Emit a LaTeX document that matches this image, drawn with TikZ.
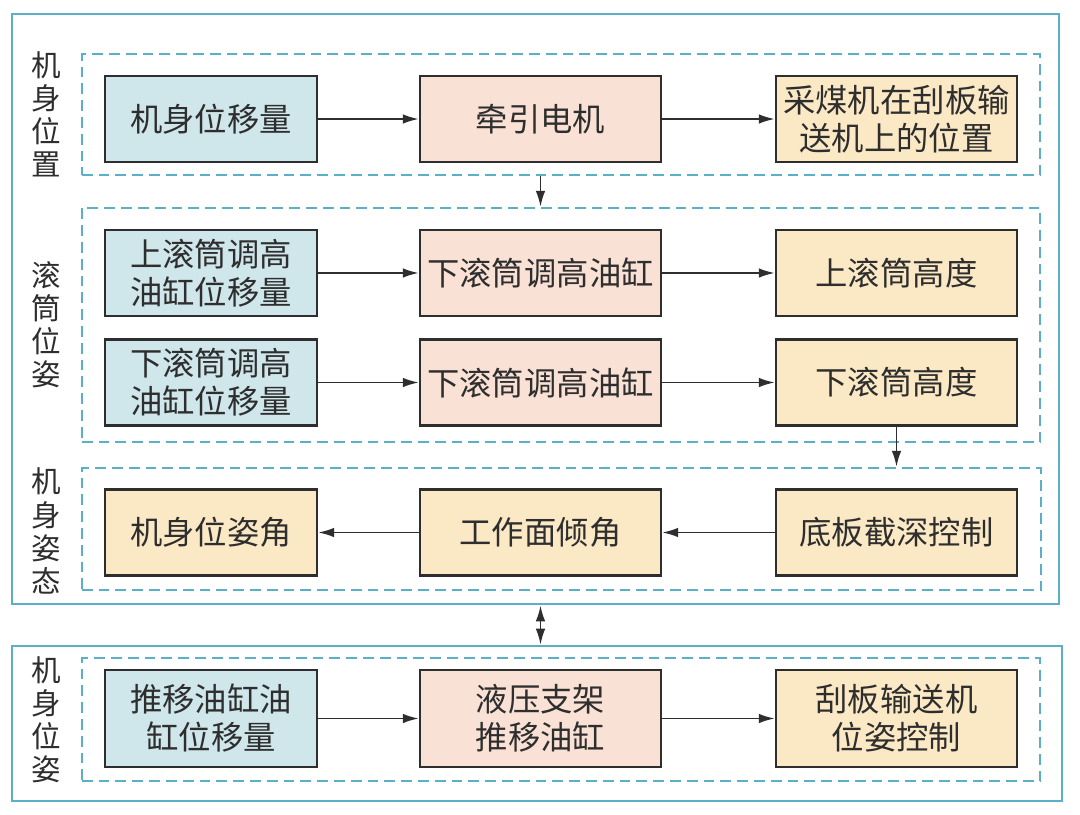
\documentclass[tikz,border=0pt]{standalone}
\usepackage{fontspec}
\newfontfamily\cjk{Noto Sans CJK SC}
\usetikzlibrary{arrows.meta}
\definecolor{frameC}{HTML}{5BAFC7}
\definecolor{blueF}{HTML}{CFE6EB}
\definecolor{pinkF}{HTML}{F9E2D5}
\definecolor{yelF}{HTML}{FBE9C6}
\definecolor{txt}{HTML}{2E2E2E}
\begin{document}
\begin{tikzpicture}[x=0.025cm,y=-0.025cm,
  box/.style={draw=txt, line width=1.6pt, inner sep=0pt, align=center,
    font=\cjk\fontsize{23}{27}\selectfont, text=txt},
  bb1/.style={box, fill=blueF, minimum width=5.3cm, minimum height=2.15cm},
  pb/.style={box, fill=pinkF, minimum width=6.025cm, minimum height=2.15cm},
  yb/.style={box, fill=yelF, minimum width=6.025cm, minimum height=2.15cm},
  yb1/.style={box, fill=yelF, minimum width=5.3cm, minimum height=2.15cm},
  sect/.style={draw=frameC, line width=1.6pt, dash pattern=on 0.27cm off 0.15cm, inner sep=0pt},
  frm/.style={draw=frameC, line width=1.8pt, inner sep=0pt},
  side/.style={align=center, text=txt, font=\cjk\fontsize{21}{23.5}\selectfont, inner sep=0pt},
  arr/.style={draw=txt, line width=1.4pt, -{Latex[length=0.4cm,width=0.24cm]}},
  darr/.style={draw=txt, line width=1.4pt, {Latex[length=0.4cm,width=0.24cm]}-{Latex[length=0.4cm,width=0.24cm]}}
]
\useasboundingbox[fill=white] (0,0) rectangle (1080,815);

% outer frames
\node[frm, minimum width=26.175cm, minimum height=14.75cm] (f1) at (535.5,309) {};
\node[frm, minimum width=26.25cm, minimum height=3.875cm] (f2) at (537,723.5) {};

% dashed sections
\node[sect, minimum width=23.95cm, minimum height=3.025cm] (s1) at (561,114.5) {};
\node[sect, minimum width=23.95cm, minimum height=5.85cm] (s2) at (561,325) {};
\node[sect, minimum width=23.975cm, minimum height=3.05cm] (s3) at (561.5,529) {};
\node[sect, minimum width=23.95cm, minimum height=3.075cm] (s4) at (561,719.5) {};

% side labels
\node[side] (l1) at (46,114) {机\\身\\位\\置};
\node[side] (l2) at (46,325) {滚\\筒\\位\\姿};
\node[side] (l3) at (46,531) {机\\身\\姿\\态};
\node[side] (l4) at (46,720) {机\\身\\位\\姿};

% row 1
\node[bb1] (a1) at (211,119) {机身位移量};
\node[pb] (a2) at (540.5,119) {牵引电机};
\node[yb] (a3) at (896.5,119) {采煤机在刮板输\\送机上的位置};

% row 2a
\node[bb1] (b1) at (211,273) {上滚筒调高\\油缸位移量};
\node[pb] (b2) at (540.5,273) {下滚筒调高油缸};
\node[yb] (b3) at (896.5,273) {上滚筒高度};

% row 2b
\node[bb1] (c1) at (211,382.5) {下滚筒调高\\油缸位移量};
\node[pb] (c2) at (540.5,382.5) {下滚筒调高油缸};
\node[yb] (c3) at (896.5,382.5) {下滚筒高度};

% row 3
\node[yb1] (d1) at (211,532.5) {机身位姿角};
\node[yb] (d2) at (540.5,532.5) {工作面倾角};
\node[yb] (d3) at (896.5,532.5) {底板截深控制};

% row 4
\node[bb1, minimum height=2.425cm] (e1) at (211,718.5) {推移油缸油\\缸位移量};
\node[pb, minimum height=2.425cm] (e2) at (540.5,718.5) {液压支架\\推移油缸};
\node[yb, minimum height=2.425cm] (e3) at (896.5,718.5) {刮板输送机\\位姿控制};

% arrows
\draw[arr] (a1) -- (a2);
\draw[arr] (a2) -- (a3);
\draw[arr] (b1) -- (b2);
\draw[arr] (b2) -- (b3);
\draw[arr] (c1) -- (c2);
\draw[arr] (c2) -- (c3);
\draw[arr] (d3) -- (d2);
\draw[arr] (d2) -- (d1);
\draw[arr] (e1) -- (e2);
\draw[arr] (e2) -- (e3);
\draw[arr] (a2 |- s1.south) -- (a2 |- s2.north);
\draw[arr] (c3.south) -- (c3 |- s3.north);
\draw[darr] (a2 |- f1.south) -- (a2 |- f2.north);
\end{tikzpicture}
\end{document}
